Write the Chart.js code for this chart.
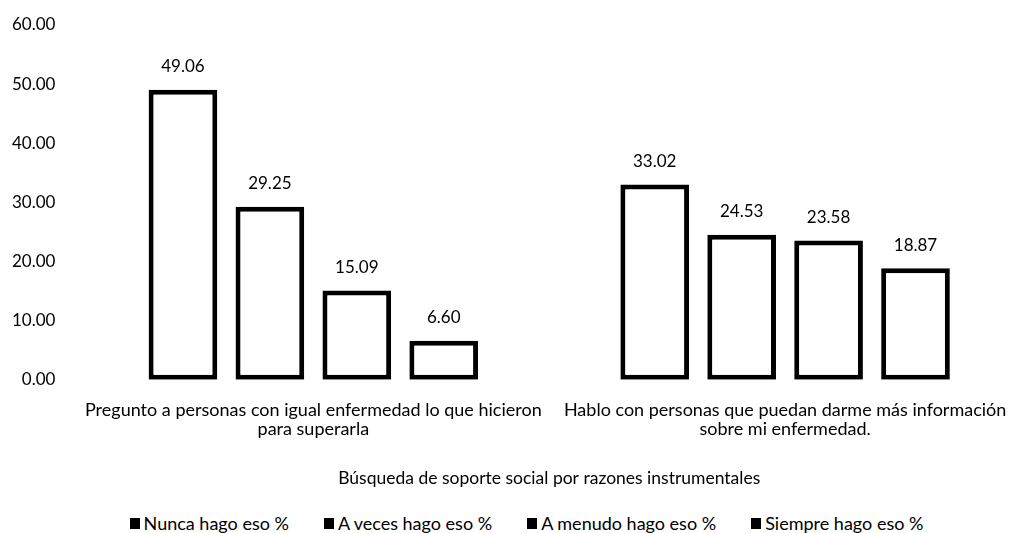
<!DOCTYPE html>
<html>
<head>
<meta charset="utf-8">
<script src="https://cdn.jsdelivr.net/npm/chart.js@4"></script>
<style>
  html, body { margin: 0; padding: 0; background: #fff; overflow: hidden; }
  #wrap { position: relative; width: 1013px; height: 533px; overflow: hidden; }
  #box { position: absolute; left: 0; top: 0; width: 1021px; height: 507px; }
  #legend {
    position: absolute; left: 0; top: 513px; width: 1013px; height: 20px;
    display: flex; justify-content: center; gap: 35px; padding-left: 40px; box-sizing: border-box;
    font: 18px Lato, "Open Sans", sans-serif; line-height: 20px; color: #000;
  }
  #legend span.item { display: flex; align-items: center; white-space: nowrap; }
  #legend span.box { display: inline-block; width: 10px; height: 11px; background: #000; margin-right: 4px; }
</style>
</head>
<body>
<div id="wrap">
  <div id="box"><canvas id="myChart"></canvas></div>
  <div id="legend"></div>
</div>
<script>
var categories = [
  ['Pregunto a personas con igual enfermedad lo que hicieron', 'para superarla'],
  ['Hablo con personas que puedan darme más información', 'sobre mi enfermedad.']
];
var seriesNames = ['Nunca hago eso %', 'A veces hago eso %', 'A menudo hago eso %', 'Siempre hago eso %'];
var nunca = [49.06, 33.02];
var aVeces = [29.25, 24.53];
var aMenudo = [15.09, 23.58];
var siempre = [6.60, 18.87];
var yTicks = [0, 10, 20, 30, 40, 50, 60];

var FONT = 'Lato, "Open Sans", sans-serif';
Chart.defaults.font.family = FONT;
Chart.defaults.color = '#000';

// value written above every bar
var valueLabels = {
  id: 'valueLabels',
  afterDatasetsDraw: function (chart) {
    var ctx = chart.ctx;
    ctx.save();
    ctx.font = '17px ' + FONT;
    ctx.fillStyle = '#000';
    ctx.textAlign = 'center';
    ctx.textBaseline = 'middle';
    chart.data.datasets.forEach(function (ds, i) {
      chart.getDatasetMeta(i).data.forEach(function (bar, j) {
        ctx.fillText(ds.data[j].toFixed(2), bar.x, bar.y - 23);
      });
    });
    ctx.restore();
  }
};

function makeSet(label, data) {
  return {
    label: label,
    data: data,
    backgroundColor: '#fff',
    borderColor: '#000',
    borderWidth: 5,
    borderSkipped: false,
    barPercentage: 0.79,
    categoryPercentage: 0.737
  };
}

var ctx = document.getElementById('myChart').getContext('2d');
var myChart = new Chart(ctx, {
  type: 'bar',
  data: {
    labels: categories,
    datasets: [
      makeSet(seriesNames[0], nunca),
      makeSet(seriesNames[1], aVeces),
      makeSet(seriesNames[2], aMenudo),
      makeSet(seriesNames[3], siempre)
    ]
  },
  options: {
    responsive: true,
    maintainAspectRatio: false,
    animation: false,
    layout: { padding: { top: 25, left: -10, right: 0, bottom: 0 } },
    scales: {
      x: {
        grid: { display: false, drawTicks: false },
        border: { display: false },
        // long category labels may run past the plot edges
        afterFit: function (scale) {
          scale.paddingLeft = 0;
          scale.paddingRight = 0;
        },
        ticks: { font: { size: 18, lineHeight: 1.06 }, padding: 21, maxRotation: 0, autoSkip: false },
        title: {
          display: true,
          text: 'Búsqueda de soporte social por razones instrumentales',
          font: { size: 17.5 },
          padding: { top: 8, bottom: 18 }
        }
      },
      y: {
        min: 0,
        max: 60,
        grid: { display: false, drawTicks: false },
        border: { display: false },
        afterFit: function (scale) {
          scale.paddingTop = 0;
          scale.paddingBottom = 0;
        },
        afterBuildTicks: function (axis) {
          axis.ticks = yTicks.map(function (v) { return { value: v }; });
        },
        ticks: {
          font: { size: 17 },
          padding: 22,
          callback: function (v) { return Number(v).toFixed(2); }
        }
      }
    },
    plugins: {
      legend: { display: false },
      tooltip: { enabled: false }
    }
  },
  plugins: [valueLabels]
});

// legend row under the canvas, built from the datasets
var legendEl = document.getElementById('legend');
myChart.data.datasets.forEach(function (ds) {
  var item = document.createElement('span');
  item.className = 'item';
  var sw = document.createElement('span');
  sw.className = 'box';
  item.appendChild(sw);
  item.appendChild(document.createTextNode(ds.label));
  legendEl.appendChild(item);
});
</script>
</body>
</html>
